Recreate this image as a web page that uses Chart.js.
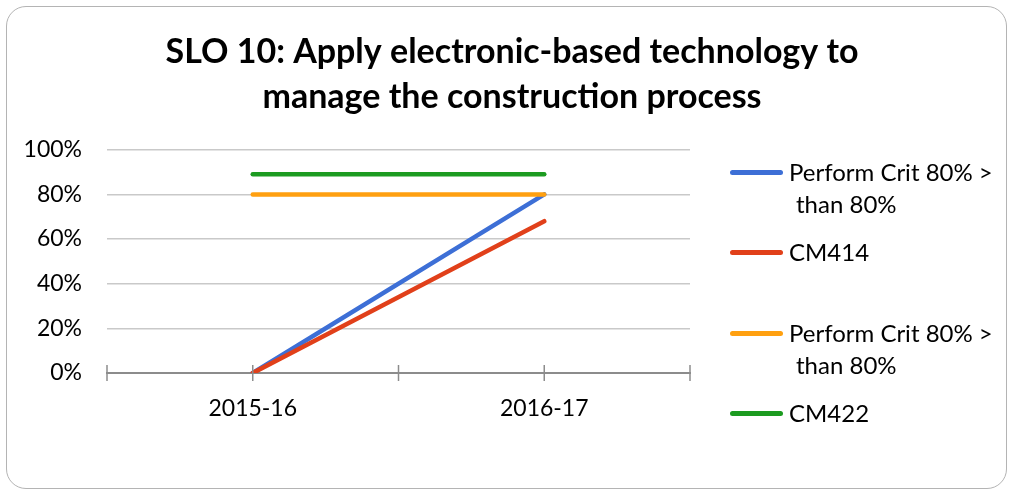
<!DOCTYPE html>
<html><head><meta charset="utf-8">
<script src="https://cdn.jsdelivr.net/npm/chart.js@4/dist/chart.umd.min.js"></script>
<style>
html,body{margin:0;padding:0;background:#fff;}
#wrap{position:relative;width:1010px;height:493px;overflow:hidden;}
#frame{position:absolute;left:6px;top:6px;width:1001px;height:483px;border:1.5px solid #b4b4b4;border-radius:20px;box-sizing:border-box;}
#c{position:absolute;left:0;top:0;}
.sw{position:absolute;left:730px;width:53px;height:5px;border-radius:3px;}
.tx{position:absolute;left:789px;font-family:Lato, sans-serif;font-size:24px;line-height:32px;color:#000;white-space:nowrap;}
</style></head>
<body>
<div id="wrap">
  <div id="frame"></div>
  <canvas id="c" width="1010" height="493"></canvas>
  <div id="legend"></div>
</div>
<script>
const categories = ['2015-16', '2016-17'];
const seriesNames = ['Perform Crit 80% > than 80%', 'CM414', 'Perform Crit 80% > than 80%', 'CM422'];
const performCritA = [0, 80];
const cm414 = [0, 68];
const performCritB = [80, 80];
const cm422 = [89, 89];
const yTicks = [0, 20, 40, 60, 80, 100];
const colors = ['#3D6FD6', '#E1401A', '#FFA010', '#1C9B20'];
const titleLines = ['SLO 10: Apply electronic-based technology to', 'manage the construction process'];

const values = [performCritA, cm414, performCritB, cm422];
const datasets = values.map((v, i) => ({
  label: seriesNames[i],
  data: v,
  borderColor: colors[i],
  backgroundColor: colors[i],
  borderWidth: 4.5,
  borderCapStyle: 'round',
  borderJoinStyle: 'round',
  pointRadius: 0,
  tension: 0,
  fill: false,
  order: values.length - i
}));

const crossTicks = {
  id: 'crossTicks',
  afterLayout(chart) {
    const t = chart.titleBlock;
    if (t) { t.left = 14; t.right = chart.width; t.width = chart.width - 14; }
  },
  afterDraw(chart) {
    const xs = chart.scales.x;
    const y0 = chart.chartArea.bottom;
    const ctx = chart.ctx;
    const pos = [xs.left, xs.right];
    const n = categories.length;
    for (let i = 0; i < n; i++) pos.push(xs.getPixelForTick(i));
    for (let i = 0; i < n - 1; i++) pos.push((xs.getPixelForTick(i) + xs.getPixelForTick(i + 1)) / 2);
    ctx.save();
    ctx.strokeStyle = '#8c8c8c';
    ctx.lineWidth = 1.5;
    pos.forEach(p => {
      ctx.beginPath();
      ctx.moveTo(p, y0 - 8);
      ctx.lineTo(p, y0 + 8);
      ctx.stroke();
    });
    ctx.restore();
  }
};

new Chart(document.getElementById('c'), {
  type: 'line',
  data: { labels: categories, datasets },
  plugins: [crossTicks],
  options: {
    responsive: false,
    animation: false,
    layout: { padding: { left: 0, right: 320, top: 0, bottom: 0 } },
    plugins: {
      legend: { display: false },
      tooltip: { enabled: false },
      title: {
        display: true,
        text: titleLines,
        color: '#000',
        font: { family: 'Lato', size: 34, weight: 'bold', lineHeight: 1.32 },
        padding: { top: 30, bottom: 30 }
      }
    },
    scales: {
      x: {
        offset: true,
        grid: { display: false, drawTicks: false },
        border: { display: true, color: '#8c8c8c', width: 2 },
        ticks: { color: '#000', padding: 22, font: { family: 'Lato', size: 23 } },
        afterFit(s) { s.height = 120; }
      },
      y: {
        min: 0, max: 100,
        afterBuildTicks(s) { s.ticks = yTicks.map(v => ({ value: v })); },
        grid: { color: '#c9c9c9', lineWidth: 1.5, drawTicks: false },
        border: { display: false },
        ticks: { color: '#000', padding: 25, font: { family: 'Lato', size: 23 }, callback: v => v + '%' },
        afterFit(s) { s.width = 107; }
      }
    }
  }
});

// HTML legend built from the series
const legend = document.getElementById('legend');
const centers = [172, 252, 333, 413];
seriesNames.forEach((name, i) => {
  const sw = document.createElement('div');
  sw.className = 'sw';
  sw.style.top = (centers[i] - 2.5) + 'px';
  sw.style.background = colors[i];
  legend.appendChild(sw);
  const tx = document.createElement('div');
  tx.className = 'tx';
  tx.style.top = (centers[i] - 16) + 'px';
  const parts = name.split(' than ');
  if (parts.length > 1) {
    const l1 = document.createElement('div'); l1.textContent = parts[0];
    const l2 = document.createElement('div'); l2.textContent = 'than ' + parts[1]; l2.style.paddingLeft = '7px';
    tx.appendChild(l1); tx.appendChild(l2);
  } else {
    tx.textContent = name;
  }
  legend.appendChild(tx);
});
</script>
</body></html>
